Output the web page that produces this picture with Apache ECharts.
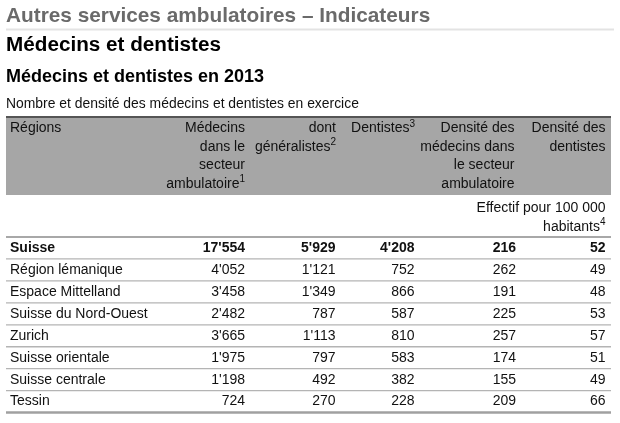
<!DOCTYPE html>
<html><head><meta charset="utf-8">
<script src="https://cdn.jsdelivr.net/npm/echarts@6/dist/echarts.min.js"></script>
<style>html,body{margin:0;padding:0;background:#fff}#c{width:620px;height:423px}</style>
</head><body><div id="c"></div>
<script>
// ---- data ----
const regions = ['Suisse','Région lémanique','Espace Mittelland','Suisse du Nord-Ouest','Zurich','Suisse orientale','Suisse centrale','Tessin'];
const medecins = [17554,4052,3458,2482,3665,1975,1198,724];
const generalistes = [5929,1121,1349,787,1113,797,492,270];
const dentistes = [4208,752,866,587,810,583,382,228];
const densiteMedecins = [216,262,191,225,257,174,155,209];
const densiteDentistes = [52,49,48,53,57,51,49,66];
const headers = [
  ['Régions'],
  ['Médecins','dans le','secteur','ambulatoire{s|1}'],
  ['dont','généralistes{s|2}'],
  ['Dentistes{s|3}'],
  ['Densité des','médecins dans','le secteur','ambulatoire'],
  ['Densité des','dentistes']
];
const unitNote = ['Effectif pour 100 000','habitants{s|4}'];
const titleMain = 'Autres services ambulatoires – Indicateurs';
const titleSection = 'Médecins et dentistes';
const titleTable = 'Médecins et dentistes en 2013';
const subtitle = 'Nombre et densité des médecins et dentistes en exercice';

// ---- layout ----
const FONT = '"Liberation Sans", Arial, Helvetica, sans-serif';
const colX = [10, 245, 335.5, 414.5, 516, 605.5];
const headX = [10, 245, 336, 415, 514.5, 605.5];
const headAlign = ['left','right','right','right','right','right'];

function fmt(n){ return String(n).replace(/\B(?=(\d{3})+(?!\d))/g, "'"); }

const supRich = { s: { fontSize: 10, fontFamily: FONT, fill: '#111', verticalAlign: 'top', lineHeight: 13 } };

const graphics = [
  {type:'text', style:{text:titleMain, x:6, y:16, fill:'#6a6a6a', fontFamily:FONT, fontSize:20.8, fontWeight:'bold', verticalAlign:'middle'}},
  {type:'line', shape:{x1:6,y1:29.5,x2:614,y2:29.5}, style:{stroke:'#e3e3e3', lineWidth:2}},
  {type:'text', style:{text:titleSection, x:6, y:45, fill:'#000', fontFamily:FONT, fontSize:20.7, fontWeight:'bold', verticalAlign:'middle'}},
  {type:'text', style:{text:titleTable, x:6, y:77, fill:'#000', fontFamily:FONT, fontSize:18, fontWeight:'bold', verticalAlign:'middle'}},
  {type:'text', style:{text:subtitle, x:6, y:104, fill:'#111', fontFamily:FONT, fontSize:13.9, verticalAlign:'middle'}},
  {type:'rect', shape:{x:6,y:118,width:605,height:77}, style:{fill:'#a6a6a6'}},
  {type:'line', shape:{x1:6,y1:117,x2:611,y2:117}, style:{stroke:'#555', lineWidth:2}}
];
headers.forEach((lines, k) => {
  graphics.push({type:'text', style:{text: lines.join('\n'), x: headX[k], y: 119, align: headAlign[k], verticalAlign:'top',
    fill:'#111', fontFamily:FONT, fontSize:14, lineHeight:18.5, rich: supRich}});
});
graphics.push({type:'text', style:{text: unitNote.join('\n'), x: 605.5, y: 199, align:'right', verticalAlign:'top',
  fill:'#111', fontFamily:FONT, fontSize:14, lineHeight:18.5, rich: supRich}});

const chart = echarts.init(document.getElementById('c'), null, {renderer:'canvas'});
chart.setOption({
  animation: false,
  grid: {left: 6, right: 9, top: 237, height: 175.6, containLabel: false},
  xAxis: {type:'value', min:0, max:1, show:false},
  yAxis: {type:'category', data: regions, inverse: true, show:false},
  graphic: graphics,
  series: [{
    type: 'custom',
    data: regions.map((r, i) => [0, i]),
    renderItem: function(params, api){
      const i = api.value(1);
      const c = api.coord([0, i]);
      const h = api.size([0, 1])[1];
      const y = c[1];
      const cs = params.coordSys;
      const bold = i === 0;
      const cells = [regions[i], fmt(medecins[i]), fmt(generalistes[i]), fmt(dentistes[i]), fmt(densiteMedecins[i]), fmt(densiteDentistes[i])];
      const children = cells.map((t, k) => ({
        type:'text',
        style:{text:t, x: colX[k], y: y, align: k === 0 ? 'left' : 'right', verticalAlign:'middle',
          fill:'#111', fontFamily:FONT, fontSize:14, fontWeight: bold ? 'bold' : 'normal'}
      }));
      const last = i === regions.length - 1;
      children.push({type:'line', shape:{x1:cs.x, y1:y + h/2, x2:cs.x + cs.width, y2:y + h/2},
        style:{stroke: last ? '#a0a0a0' : '#b4b4b4', lineWidth: last ? 2.5 : 1.3}});
      if (i === 0) {
        children.push({type:'line', shape:{x1:cs.x, y1:y - h/2, x2:cs.x + cs.width, y2:y - h/2},
          style:{stroke:'#a8a8a8', lineWidth:2}});
      }
      return {type:'group', children};
    }
  }]
});
</script>
</body></html>
